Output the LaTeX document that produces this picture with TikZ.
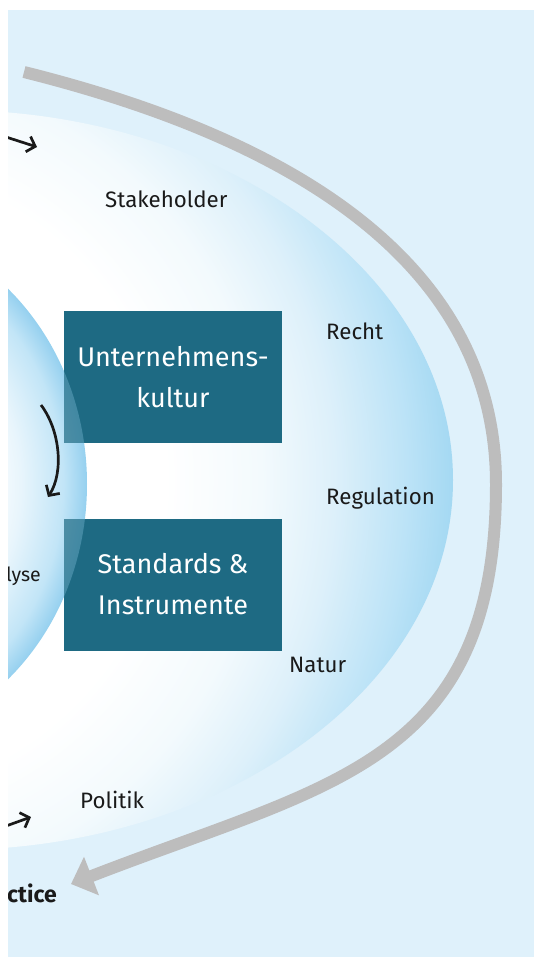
\documentclass[tikz,border=0pt]{standalone}
\usepackage{fontspec}
\setmainfont{Fira Sans}
\usetikzlibrary{arrows.meta}
\definecolor{bgblue}{HTML}{DFF1FB}
\definecolor{oA}{HTML}{F3FAFD}
\definecolor{oB}{HTML}{DDF0FA}
\definecolor{oC}{HTML}{BCE3F7}
\definecolor{oD}{HTML}{A3D8F2}
\definecolor{iA}{HTML}{E8F5FC}
\definecolor{iB}{HTML}{C2E5F7}
\definecolor{iC}{HTML}{95D0EF}
\definecolor{tealbox}{HTML}{1E6A83}
\definecolor{greyarc}{HTML}{BDBDBD}
\definecolor{txt}{HTML}{1A1A1A}
\pgfdeclareradialshading{outerglow}{\pgfpoint{0bp}{0bp}}{color(0bp)=(white); color(13bp)=(white); color(17bp)=(oA); color(20bp)=(oB); color(23bp)=(oC); color(25bp)=(oD); color(50bp)=(oD)}
\pgfdeclareradialshading{innerglow}{\pgfpoint{0bp}{0bp}}{color(0bp)=(white); color(14bp)=(white); color(18bp)=(iA); color(22.5bp)=(iB); color(25bp)=(iC); color(50bp)=(iC)}
\begin{document}
\begin{tikzpicture}[x=1pt,y=1pt,
  box/.style={fill=tealbox, minimum width=218pt, minimum height=132pt, inner sep=0pt,
    text=white, align=center, font=\fontsize{27}{41}\selectfont},
  lbl/.style={font=\fontsize{22.3}{26}\selectfont, text=txt, inner sep=0pt, anchor=base west},
  garrow/.style={line width=12pt, draw=greyarc, -{Triangle[length=22pt,width=40pt]}},
  karrow/.style={line width=2.7pt, draw=txt, -{Straight Barb[length=7.5pt,width=16pt]}}]
\useasboundingbox (0,0) rectangle (534,-958);
\fill[white] (0,0) rectangle (534,-958);
\begin{scope}
\clip (8,-10) rectangle (534,-957);
\fill[bgblue] (8,-10) rectangle (534,-957);
% outer field
\begin{scope}
\clip (-50,-480) ellipse [x radius=503, y radius=370];
\shade[shading=outerglow] (-150,-480) circle [radius=605];
\end{scope}
% inner field
\fill[white] (-150,-484) ellipse [x radius=250, y radius=275];
\shade[shading=innerglow] (-150,-484) ellipse [x radius=237, y radius=262];
% boxes
\node[box] (kultur) at (173,-377) {Unternehmens-\\kultur};
\node[box] (standards) at (173,-584.5) {Standards \&\\Instrumente};
\begin{scope}
\clip (kultur.north west) rectangle (kultur.south east)
      (standards.north west) rectangle (standards.south east);
\shade[shading=innerglow, opacity=0.3] (-150,-484) ellipse [x radius=237, y radius=262];
\end{scope}
% labels
\node[lbl] (stake) at (105,-207) {Stakeholder};
\node[lbl] (recht) at (326,-339) {Recht};
\node[lbl] (regul) at (326,-504) {Regulation};
\node[lbl] (natur) at (289,-672) {Natur};
\node[lbl] (politik) at (80,-808) {Politik};
\node[lbl, anchor=base east, font=\fontsize{19.5}{22}\selectfont] (lyse) at (41,-581) {lyse};
\node[lbl, anchor=base east, font=\fontsize{23}{26}\selectfont\bfseries] (ctice) at (57,-902) {ctice};
% grey arc arrow
\coordinate (g1) at (24,-72);
\coordinate (g2) at (496,-484);
\coordinate (g3) at (71,-884);
\draw[garrow] (g1) .. controls (276,-135) and (496,-254) .. (g2)
  .. controls (496,-764) and (331,-783) .. (g3);
% small black arrows
\coordinate (a1s) at (6,-137);
\coordinate (a1e) at (37,-147);
\draw[karrow] (a1s) -- (a1e);
\coordinate (a2s) at (41,-405);
\coordinate (a2e) at (48,-497);
\draw[karrow] (a2s) .. controls (60,-430) and (64,-472) .. (a2e);
\coordinate (a3s) at (6,-826);
\coordinate (a3e) at (31,-817);
\draw[karrow] (a3s) -- (a3e);
\end{scope}
\end{tikzpicture}
\end{document}
